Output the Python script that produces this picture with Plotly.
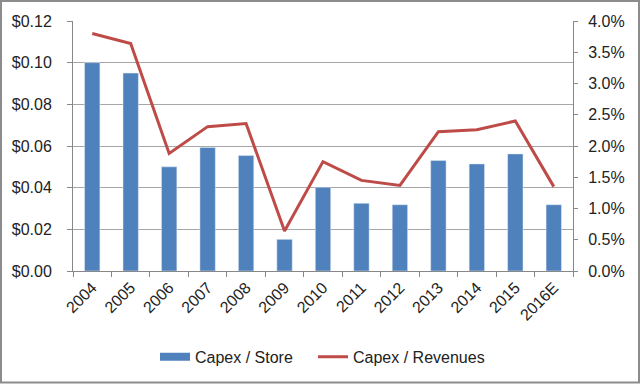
import plotly.graph_objects as go

years = ["2004", "2005", "2006", "2007", "2008", "2009", "2010", "2011", "2012", "2013", "2014", "2015", "2016E"]
capex_store = [0.100, 0.095, 0.050, 0.0593, 0.0554, 0.0152, 0.0402, 0.0325, 0.0318, 0.0530, 0.0514, 0.0562, 0.0318]
capex_rev = [0.0380, 0.0364, 0.0188, 0.0231, 0.0236, 0.0064, 0.0175, 0.0145, 0.0137, 0.0223, 0.0226, 0.0240, 0.0135]

font = dict(family="Liberation Sans, Arial, sans-serif", size=16, color="#222222")
BLUE = "#4F81BD"
RED = "#BE4B48"

fig = go.Figure()
fig.add_trace(go.Bar(x=years, y=capex_store, name="Capex / Store", marker_color=BLUE,
                     width=0.4, yaxis="y", showlegend=False, legendgroup="store"))
# legend-only entry to show a wide rectangle swatch like the reference
fig.add_trace(go.Scatter(x=[None], y=[None], name="Capex / Store", mode="lines",
                         line=dict(color=BLUE, width=8), legendgroup="store", yaxis="y",
                         legend="legend"))
fig.add_trace(go.Scatter(x=years, y=capex_rev, name="Capex / Revenues", mode="lines",
                         line=dict(color=RED, width=3), yaxis="y2", legend="legend2"))

PW = 500
fig.update_layout(
    width=640, height=385,
    margin=dict(l=73, r=67, t=21, b=113),
    paper_bgcolor="white", plot_bgcolor="white",
    font=font,
    showlegend=True,
    legend=dict(orientation="h", x=(155 - 73) / PW, xanchor="left", y=-0.27, yanchor="top",
                font=font),
    legend2=dict(orientation="h", x=(313 - 73) / PW, xanchor="left", y=-0.27, yanchor="top",
                 font=font),
    xaxis=dict(type="category", tickangle=-45, ticks="outside", tickson="boundaries",
               ticklen=5, tickcolor="#888888", showline=True, linecolor="#888888",
               showgrid=False, tickfont=font),
    yaxis=dict(range=[0, 0.12], dtick=0.02, tickformat="$.2f", showgrid=True,
               gridcolor="#A6A6A6", gridwidth=1, showline=True, linecolor="#888888",
               ticks="outside", ticklen=5, tickcolor="#888888", zeroline=False, tickfont=font,
               ticklabelstandoff=12),
    yaxis2=dict(range=[0, 0.04], dtick=0.005, tickformat=".1%", overlaying="y", side="right",
                showgrid=False, showline=True, linecolor="#888888", ticks="outside",
                ticklen=4, tickcolor="#888888", zeroline=False, tickfont=font,
                ticklabelstandoff=7),
    shapes=[dict(type="rect", xref="paper", yref="paper",
                 x0=-72 / PW, x1=1 + 66 / PW, y0=-112 / 251, y1=1 + 20 / 251,
                 line=dict(color="#8C8C8C", width=2), fillcolor="rgba(0,0,0,0)", layer="above")],
)

fig.write_html("out.html", config={"displayModeBar": False},
               post_script="document.body.style.margin='0';document.body.style.padding='0';")
